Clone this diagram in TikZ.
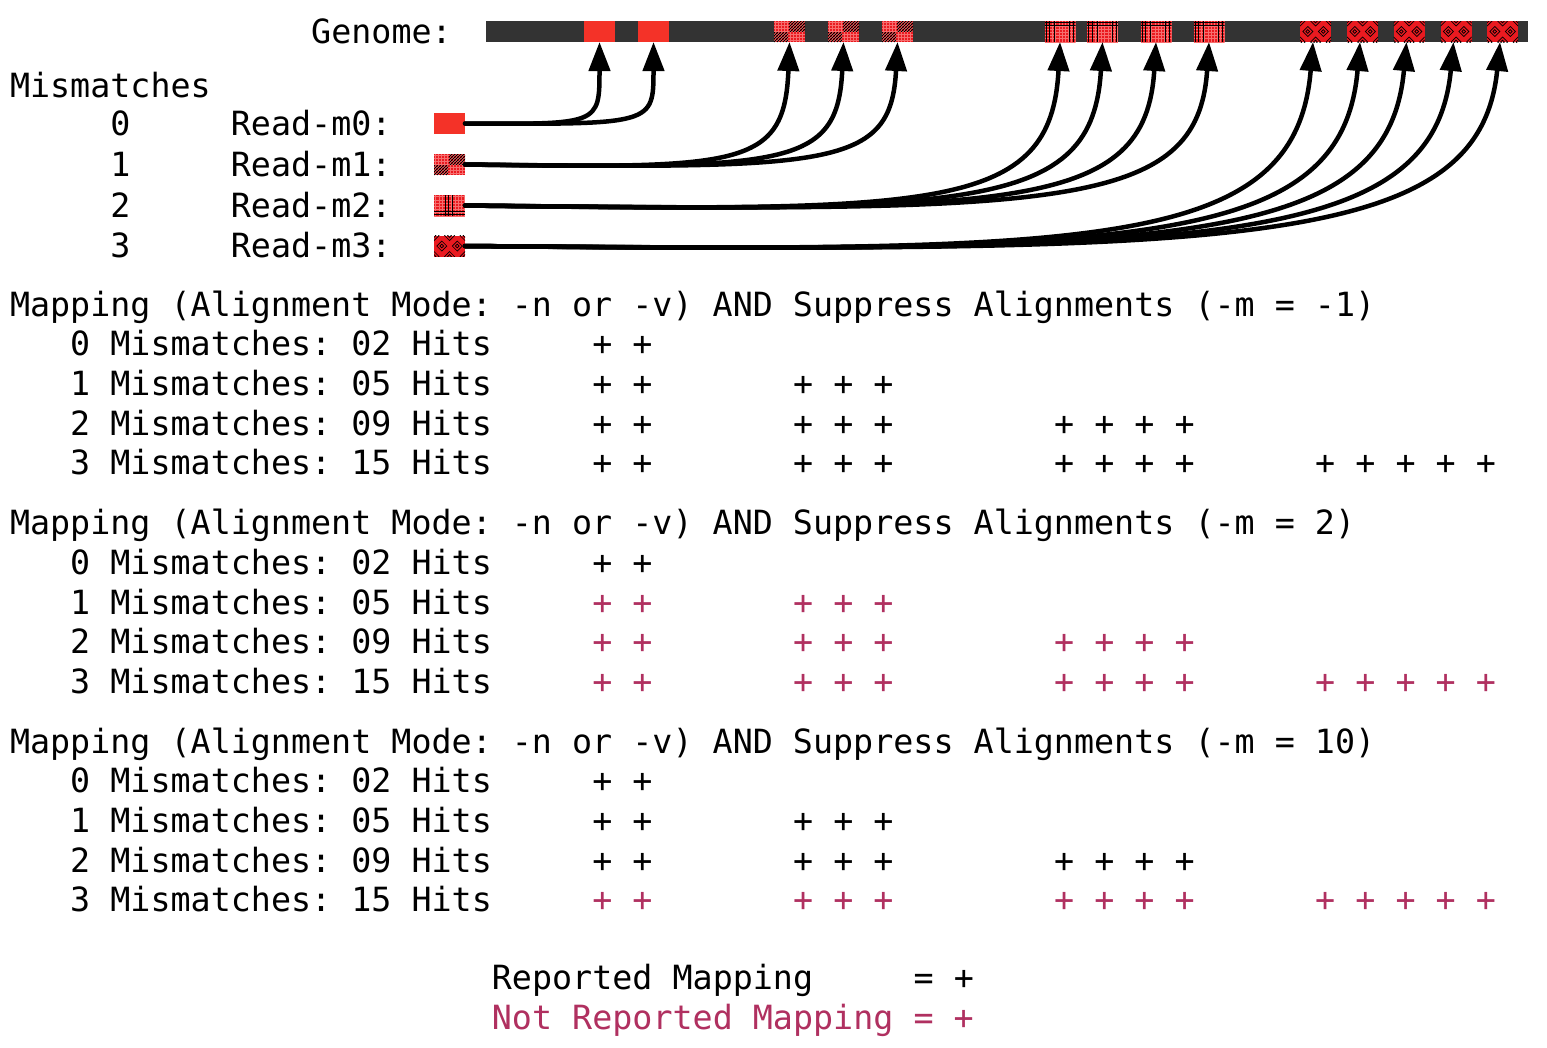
\documentclass[tikz,border=0pt]{standalone}
\usepackage{fontspec}
\setmainfont{DejaVu Sans Mono}
\usetikzlibrary{arrows.meta}
\frenchspacing
\definecolor{redA}{RGB}{244,50,40}
\definecolor{redB}{RGB}{234,26,32}
\definecolor{lgrid}{RGB}{246,110,110}
\definecolor{barc}{HTML}{333333}
\definecolor{notrep}{HTML}{B03060}
\newcommand\fs{\fontsize{33.35pt}{40pt}\selectfont}
\newcommand\PatOne[1]{\begin{scope}
 \clip (#1.north west) rectangle (#1.south east);
 \begin{scope}[shift={(#1.north west)}]
 \foreach \i in {1.5,4.5,...,31} \draw[lg] (\i,0) -- (\i,21);
 \foreach \j in {1.5,4.5,...,21} \draw[lg] (0,\j) -- (31,\j);
 \begin{scope}
  \clip (15,0) rectangle (31,10);
  \foreach \a in {-21,-18,...,33} \draw[hatch] (\a,21) -- ++(21,-21);
 \end{scope}
 \begin{scope}
  \clip (0,11) rectangle (14,21);
  \foreach \a in {-21,-18,...,33} \draw[hatch] (\a,21) -- ++(21,-21);
 \end{scope}
 \end{scope}
\end{scope}}
\newcommand\PatTwo[1]{\begin{scope}
 \clip (#1.north west) rectangle (#1.south east);
 \begin{scope}[shift={(#1.north west)}]
 \foreach \i in {1.6,4.8,...,31} \draw[lg] (\i,0) -- (\i,21);
 \foreach \j in {1.6,4.8,...,21} \draw[lg] (0,\j) -- (31,\j);
 \foreach \i in {1.7,5,10,25,29.3} \draw[hatch] (\i,0) -- (\i,21);
 \foreach \j in {1.5,4.6} \draw[hatch] (0,\j) -- (31,\j);
 \end{scope}
\end{scope}}
\newcommand\PatTwoR[1]{\begin{scope}
 \clip (#1.north west) rectangle (#1.south east);
 \begin{scope}[shift={(#1.north west)}]
 \foreach \i in {1.6,4.8,...,31} \draw[lg] (\i,0) -- (\i,21);
 \foreach \j in {1.6,4.8,...,21} \draw[lg] (0,\j) -- (31,\j);
 \foreach \i in {11,14,18} \draw[hatch] (\i,0) -- (\i,21);
 \foreach \j in {16.5,19.5} \draw[hatch] (0,\j) -- (31,\j);
 \end{scope}
\end{scope}}
\newcommand\PatThree[1]{\begin{scope}
 \clip (#1.north west) rectangle (#1.south east);
 \begin{scope}[shift={(#1.north west)}]
 \foreach \cx/\cy in {0/0,15.5/0,31/0,7.75/10.5,23.25/10.5,0/21,15.5/21,31/21}
  \foreach \r in {1.8,5}
   \draw[hatch,line width=0.7pt] ({\cx-\r},{\cy}) -- ({\cx},{\cy-\r}) -- ({\cx+\r},{\cy}) -- ({\cx},{\cy+\r}) -- cycle;
 \end{scope}
\end{scope}}
\begin{document}
\begin{tikzpicture}[x=1pt,y=-1pt,
 txt/.style={anchor=base west,inner sep=0pt,outer sep=0pt,font=\fs,text=black},
 blk/.style={rectangle,inner sep=0pt,outer sep=0pt,minimum width=31pt,minimum height=21pt},
 bzero/.style={blk,fill=redA},
 bpat/.style={blk,fill=redB},
 conn/.style={draw=black,line width=4.5pt,line cap=round,-{Triangle[width=21pt,length=29pt]}},
 hatch/.style={draw=black,line width=0.9pt},
 lg/.style={draw=lgrid,line width=0.5pt}]
\fill[white] (0,0) rectangle (1547,1047);
\useasboundingbox (0,0) rectangle (1547,1047);

% genome
\node[txt] (genomelabel) at (311.2,43) {Genome:};
\node[rectangle,fill=barc,inner sep=0pt,outer sep=0pt,minimum width=1042pt,minimum height=21pt,anchor=north west] (bar) at (486,21) {};
\node[bzero] (g1) at (599.5,31.5) {};
\node[bzero] (g2) at (653.5,31.5) {};
\node[bpat] (g3) at (789.5,31.5) {};
\node[bpat] (g4) at (843.5,31.5) {};
\node[bpat] (g5) at (897.5,31.5) {};
\node[bpat] (g6) at (1060,31.5) {};
\node[bpat] (g7) at (1102.5,31.5) {};
\node[bpat] (g8) at (1156,31.5) {};
\node[bpat] (g9) at (1209,31.5) {};
\node[bpat] (g10) at (1315.5,31.5) {};
\node[bpat] (g11) at (1362.5,31.5) {};
\node[bpat] (g12) at (1409,31.5) {};
\node[bpat] (g13) at (1456,31.5) {};
\node[bpat] (g14) at (1502.5,31.5) {};
\foreach \n in {g3,g4,g5} {\PatOne{\n}}
\foreach \n in {g6,g7,g8,g9} {\PatTwo{\n}}
\foreach \n in {g10,g11,g12,g13,g14} {\PatThree{\n}}

% reads
\node[txt] (mm) at (10,97) {Mismatches};
\node[txt] (n0) at (110.4,135.5) {0};
\node[txt] (n1) at (110.4,176.3) {1};
\node[txt] (n2) at (110.4,217) {2};
\node[txt] (n3) at (110.4,257.5) {3};
\node[txt] (rl0) at (230.9,135.5) {Read-m0:};
\node[txt] (rl1) at (230.9,176.3) {Read-m1:};
\node[txt] (rl2) at (230.9,217) {Read-m2:};
\node[txt] (rl3) at (230.9,257.5) {Read-m3:};
\node[bzero] (r0) at (449.5,123.5) {};
\node[bpat] (r1) at (449.5,164.5) {};
\node[bpat] (r2) at (449.5,205.5) {};
\node[bpat] (r3) at (449.5,246) {};
\PatOne{r1}
\PatTwoR{r2}
\PatThree{r3}

% connectors
\draw[conn] (r0.east) .. controls +(134.5,1) and +(0,82.5) .. (g1.south);
\draw[conn] (r0.east) .. controls +(188.5,1) and +(0,82.5) .. (g2.south);
\draw[conn] (r1.east) .. controls +(275.8,4) and +(-4.9,126.5) .. (g3.south);
\draw[conn] (r1.east) .. controls +(321.7,4) and +(-5.7,126.5) .. (g4.south);
\draw[conn] (r1.east) .. controls +(367.6,4) and +(-6.5,126.5) .. (g5.south);
\draw[conn] (r2.east) .. controls +(476,6) and +(-8.9,169.5) .. (g6.south);
\draw[conn] (r2.east) .. controls +(510,6) and +(-9.6,169.5) .. (g7.south);
\draw[conn] (r2.east) .. controls +(552.8,6) and +(-10.4,169.5) .. (g8.south);
\draw[conn] (r2.east) .. controls +(595.2,6) and +(-11.2,169.5) .. (g9.south);
\draw[conn] (r3.east) .. controls +(636,6) and +(-17,208) .. ([xshift=-2.5pt]g10.south);
\draw[conn] (r3.east) .. controls +(671.3,6) and +(-17.9,208) .. ([xshift=-2.5pt]g11.south);
\draw[conn] (r3.east) .. controls +(706.1,6) and +(-18.8,208) .. ([xshift=-2.5pt]g12.south);
\draw[conn] (r3.east) .. controls +(741.4,6) and +(-19.8,208) .. ([xshift=-2.5pt]g13.south);
\draw[conn] (r3.east) .. controls +(776.3,6) and +(-20.7,208) .. ([xshift=-2.5pt]g14.south);

% mapping blocks
\foreach \b/\T/\m/\cols in {1/316.2/-1/{black/02,black/05,black/09,black/15},
                           2/534.7/2/{black/02,notrep/05,notrep/09,notrep/15},
                           3/753.2/10/{black/02,black/05,black/09,notrep/15}}{
  \node[txt] (title\b) at (10,\T) {Mapping (Alignment Mode: -n or -v) AND Suppress Alignments (-m = \m)};
  \foreach \c/\h [count=\kk] in \cols {
    \pgfmathsetmacro\yy{\T+39.65*\kk}
    \pgfmathtruncatemacro\k{\kk-1}
    \node[txt] (row\b\k) at (70.24,\yy) {\k{} Mismatches: \h{} Hits};
    \foreach \g/\x/\s in {1/592.32/{+ +},2/793.12/{+ + +},3/1054.16/{+ + + +},4/1315.2/{+ + + + +}}{
      \ifnum\g>\kk\relax\else
        \node[txt,text=\c] (plus\b\k\g) at (\x,\yy) {\s};
      \fi
    }
  }
}

% legend
\node[txt] (leg1) at (491.9,989.5) {Reported Mapping};
\node[txt] (leg1b) at (913.6,989.5) {= +};
\node[txt,text=notrep] (leg2) at (491.9,1029) {Not Reported Mapping = +};
\end{tikzpicture}
\end{document}
